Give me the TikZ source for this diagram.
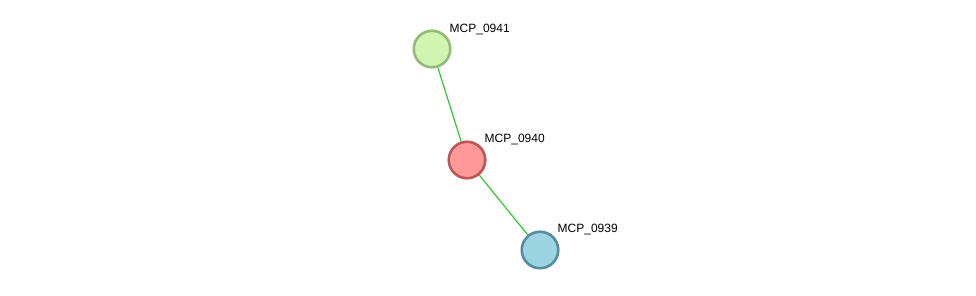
\documentclass[tikz,border=0pt]{standalone}
\usepackage{fontspec}
\setmainfont{Liberation Sans}
\begin{document}
\begin{tikzpicture}[x=1pt,y=-1pt,
  prot/.style={circle,minimum size=36.5pt,inner sep=0pt,line width=2.6pt},
  lbl/.style={anchor=south west,inner sep=0pt,font=\fontsize{12pt}{14pt}\selectfont},
  edge/.style={draw={rgb,255:red,51;green,200;blue,51},line width=1.2pt}]
\useasboundingbox[fill=white] (0,0) rectangle (976,295);
\definecolor{g1}{RGB}{208,245,176}\definecolor{g1b}{RGB}{148,187,122}
\definecolor{r1}{RGB}{255,153,153}\definecolor{r1b}{RGB}{184,88,88}
\definecolor{b1}{RGB}{156,212,226}\definecolor{b1b}{RGB}{86,140,158}
\node[prot,fill=g1,draw=g1b] (n41) at (432,49) {};
\node[prot,fill=r1,draw=r1b] (n40) at (467,160) {};
\node[prot,fill=b1,draw=b1b] (n39) at (540,250) {};
\draw[edge] (n41) -- (n40);
\draw[edge] (n40) -- (n39);
\node[lbl] (l41) at (449.5,35) {MCP\_0941};
\node[lbl] (l40) at (484.5,145) {MCP\_0940};
\node[lbl] (l39) at (557.5,235) {MCP\_0939};
\end{tikzpicture}
\end{document}
